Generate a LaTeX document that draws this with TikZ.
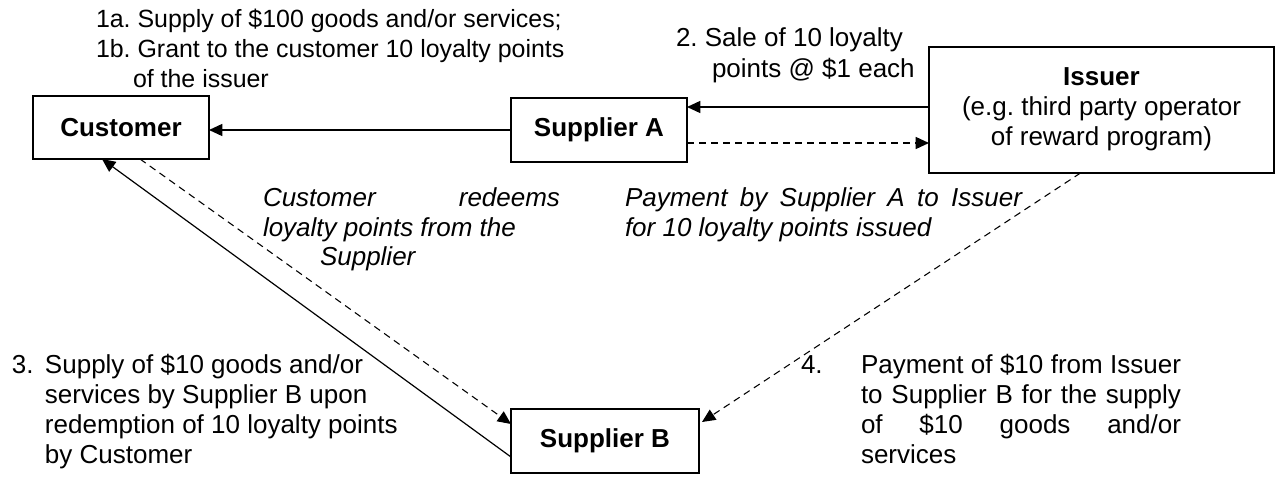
\documentclass[tikz,border=0pt]{standalone}
\usepackage{fontspec}
\setmainfont{Liberation Sans}
\usetikzlibrary{arrows.meta,calc}
\frenchspacing
\begin{document}
\begin{tikzpicture}[x=0.75pt,y=-0.75pt,
  every node/.style={inner sep=0pt,outer sep=0pt},
  txt/.style={anchor=base west,font=\fontsize{19.5pt}{22.5pt}\selectfont},
  toptxt/.style={anchor=base west,font=\fontsize{18.7pt}{22.5pt}\selectfont},
  itx/.style={anchor=base west,font=\fontsize{19.5pt}{22.5pt}\selectfont\itshape},
  box/.style={draw,line width=1.5pt,align=center,font=\fontsize{19.5pt}{22.5pt}\selectfont\bfseries},
  conn/.style={line width=1.1pt,-{Triangle[length=10pt,width=9pt]}},
  dconn/.style={conn,dash pattern=on 5.25pt off 3.75pt},
  dthin/.style={line width=0.8pt,dash pattern=on 5.25pt off 3.75pt,-{Triangle[length=10pt,width=9pt]}}]
\useasboundingbox (0,0) rectangle (1279,477);
% boxes
\node[box,minimum width=132pt,minimum height=47.25pt] (cust) at (121,127.5) {Customer};
\node[box,minimum width=132pt,minimum height=48pt] (supa) at (599,130) {Supplier A};
\node[box,minimum width=258.75pt,minimum height=94.5pt] (iss) at (1101.5,110) {Issuer\\{\mdseries (e.g. third party operator}\\{\mdseries of reward program)}\\[-18pt]};
\node[box,minimum width=141pt,minimum height=48pt] (supb) at (605,441) {Supplier B};
% texts
\node[toptxt] (l1a) at (96,28) {1a. Supply of \$100 goods and/or services;};
\node[toptxt] (l1b) at (96,58) {1b. Grant to the customer 10 loyalty points};
\node[toptxt] (l1c) at (133,88) {of the issuer};
\node[txt] (l2a) at (676,47) {2. Sale of 10 loyalty};
\node[txt] (l2b) at (712,78) {points @ \$1 each};
\node[itx] (r1) at (263,207) {\makebox[222.75pt][s]{Customer redeems}};
\node[itx] (r2) at (263,237) {loyalty points from the};
\node[itx] (r3) at (320,266) {Supplier};
\node[itx] (p1) at (625,207) {\makebox[297.75pt][s]{Payment by Supplier A to Issuer}};
\node[itx] (p2) at (625,237) {for 10 loyalty points issued};
\node[txt] (n3) at (12,374) {3.};
\node[txt] (s1) at (45,374) {Supply of \$10 goods and/or};
\node[txt] (s2) at (45,404) {services by Supplier B upon};
\node[txt] (s3) at (45,434) {redemption of 10 loyalty points};
\node[txt] (s4) at (45,464) {by Customer};
\node[txt] (n4) at (801,374) {4.};
\node[txt] (q1) at (861,374) {\makebox[240pt][s]{Payment of \$10 from Issuer}};
\node[txt] (q2) at (861,404) {\makebox[240pt][s]{to Supplier B for the supply}};
\node[txt] (q3) at (861,434) {\makebox[240pt][s]{of \$10 goods and/or}};
\node[txt] (q4) at (861,464) {services};
% connectors
\draw[conn] (supa.west) -- (supa.west -| cust.east);
\coordinate (ia) at ($(iss.west)+(0,-3)$);
\draw[conn] (ia) -- (ia -| supa.east);
\coordinate (sa) at ($(supa.east)+(0,13)$);
\draw[dconn] (sa) -- (sa -| iss.west);
\coordinate (sb1) at ($(supb.west)+(0,16)$);
\coordinate (c1) at ($(cust.south)+(-19,0)$);
\draw[conn,line width=0.9pt] (sb1) -- (c1);
\coordinate (c2) at ($(cust.south)+(19,0)$);
\coordinate (sb2) at ($(supb.west)+(0,-17)$);
\draw[dthin] (c2) -- (sb2);
\coordinate (i1) at ($(iss.south)+(-21,0)$);
\coordinate (sb3) at ($(supb.east)+(3,-19)$);
\draw[dthin] (i1) -- (sb3);
\end{tikzpicture}
\end{document}
